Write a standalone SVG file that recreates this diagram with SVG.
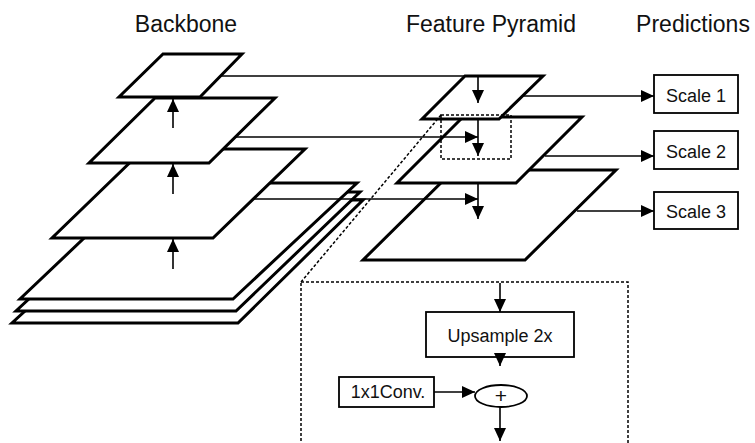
<svg xmlns="http://www.w3.org/2000/svg" width="755" height="443" viewBox="0 0 755 443">
<style>
.plane{fill:#fff;stroke:#000;stroke-width:3;stroke-linejoin:miter}
.box{fill:#fff;stroke:#000;stroke-width:1.8}
.ln{fill:none;stroke:#000;stroke-width:1.6}
.arr{fill:none;stroke:#000;stroke-width:1.6;marker-end:url(#ah)}
.dash{fill:none;stroke:#000;stroke-width:1.5;stroke-dasharray:3 2}
.title{font-family:"Liberation Sans",Arial,sans-serif;font-size:23px;fill:#111;text-anchor:middle}
.lbl{font-family:"Liberation Sans",Arial,sans-serif;font-size:18px;fill:#111;text-anchor:middle}
</style>
<defs>
<marker id="ah" viewBox="0 0 13 12" markerWidth="13" markerHeight="12" markerUnits="userSpaceOnUse" orient="auto" refX="13" refY="6">
<path d="M0,0 L13,6 L0,12 z" fill="#000"/>
</marker>
</defs>
<rect width="755" height="443" fill="#fff"/>
<g id="titles">
<text class="title" x="186" y="32">Backbone</text>
<text class="title" x="491" y="32">Feature Pyramid</text>
<text class="title" x="693" y="32">Predictions</text>
</g>
<g id="backbone">
<g id="stack3"><polygon class="plane" points="146,200 363,200 238,323 12,323"/></g>
<g id="stack2"><polygon class="plane" points="144,192 360,192 236,311 16,311"/></g>
<g id="stack1"><polygon class="plane" points="142,183 357,183 233,299 20,299"/></g>
<g id="bb-level3"><polygon class="plane" points="144,149 305,149 213,238 52,238"/></g>
<g id="bb-level2"><polygon class="plane" points="155,98 275,98 209,163 89,163"/></g>
<g id="bb-level1"><polygon class="plane" points="163,54 242,54 200,97 119,97"/></g>
</g>
<g id="pyramid">
<g id="fp-level3"><polygon class="plane" points="454,170 616,170 525,260 363,260"/></g>
<g id="fp-level2"><polygon class="plane" points="463,117 582,117 516,183 397,183"/></g>
<g id="fp-level1"><polygon class="plane" points="465,76 543,76 499,119 422,119"/></g>
</g>
<g id="predictions">
<g id="scale1"><rect class="box" x="654" y="75" width="84" height="38"/><text class="lbl" x="696" y="102">Scale 1</text></g>
<g id="scale2"><rect class="box" x="654" y="131" width="84" height="38"/><text class="lbl" x="696" y="158">Scale 2</text></g>
<g id="scale3"><rect class="box" x="654" y="192" width="84" height="37"/><text class="lbl" x="696" y="218">Scale 3</text></g>
</g>
<g id="detail">
<rect class="dash" x="441" y="115" width="70" height="44"/>
<line class="dash" x1="441" y1="115" x2="301" y2="282"/>
<rect class="dash" x="301" y="282" width="327" height="180"/>
<g id="upsample"><rect class="box" x="426" y="312" width="148" height="45"/><text class="lbl" x="500" y="342">Upsample 2x</text></g>
<g id="conv"><rect class="box" x="339" y="377" width="95" height="30"/><text class="lbl" x="388" y="398">1x1Conv.</text></g>
<g id="plus"><ellipse cx="501" cy="396" rx="26" ry="11" fill="#fff" stroke="#000" stroke-width="1.8"/><text class="lbl" x="501" y="403" style="font-size:21px">+</text></g>
</g>
<g id="connectors">
<line class="arr" x1="173" y1="128" x2="173" y2="99"/>
<line class="arr" x1="173" y1="194" x2="173" y2="164"/>
<line class="arr" x1="173" y1="269" x2="173" y2="239"/>
<line class="ln" x1="220" y1="76" x2="465" y2="76"/>
<line class="arr" x1="235" y1="137" x2="478" y2="137"/>
<line class="arr" x1="253" y1="199" x2="478" y2="199"/>
<line class="arr" x1="478" y1="76" x2="478" y2="103"/>
<line class="arr" x1="478" y1="120" x2="478" y2="156"/>
<line class="arr" x1="478" y1="184" x2="478" y2="219"/>
<line class="arr" x1="522" y1="96" x2="654" y2="96"/>
<line class="arr" x1="545" y1="156" x2="654" y2="156"/>
<line class="arr" x1="577" y1="211" x2="654" y2="211"/>
<line class="arr" x1="500" y1="283" x2="500" y2="312"/>
<line class="arr" x1="500" y1="357" x2="500" y2="366"/>
<line class="arr" x1="434" y1="392" x2="475" y2="392"/>
<line class="arr" x1="500" y1="407" x2="500" y2="441"/>
</g>
</svg>
